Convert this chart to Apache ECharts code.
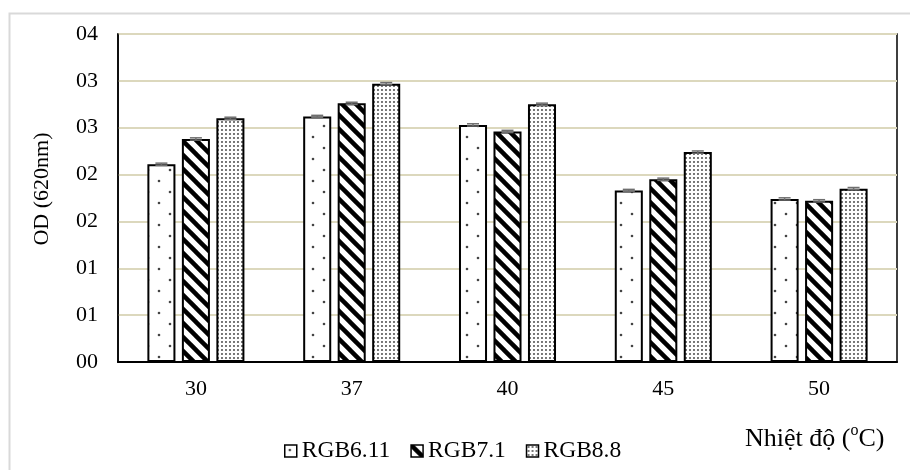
<!DOCTYPE html>
<html>
<head>
<meta charset="utf-8">
<script src="https://cdn.jsdelivr.net/npm/echarts@6/dist/echarts.min.js"></script>
<style>html,body{margin:0;padding:0;background:#fff;}#c{width:910px;height:470px;}</style>
</head>
<body>
<div id="c"></div>
<script>
// ---- data ----
const categories = ['30', '37', '40', '45', '50'];
const seriesNames = ['RGB6.11', 'RGB7.1', 'RGB8.8'];
const rgb611 = [2.11, 2.62, 2.53, 1.83, 1.74];
const rgb71 = [2.38, 2.76, 2.46, 1.95, 1.72];
const rgb88 = [2.60, 2.97, 2.75, 2.24, 1.85];
const err611 = [0.012, 0.012, 0.012, 0.012, 0.012];
const err71 = [0.012, 0.012, 0.012, 0.012, 0.012];
const err88 = [0.012, 0.012, 0.012, 0.012, 0.012];
const yTickLabels = ['00', '01', '01', '02', '02', '03', '03', '04'];
const yTickStep = 0.5;

// ---- patterns ----
function mk(w, h, draw) {
  const c = document.createElement('canvas');
  c.width = w; c.height = h;
  const g = c.getContext('2d');
  g.fillStyle = '#fff'; g.fillRect(0, 0, w, h);
  draw(g, w, h);
  return c;
}
const sparseDots = mk(22, 22, (g) => {
  g.fillStyle = '#444';
  [[5, 5], [16, 16]].forEach(([x, y]) => { g.beginPath(); g.arc(x, y, 1.3, 0, Math.PI * 2); g.fill(); });
});
const stripes = mk(14, 14, (g, s) => {
  g.strokeStyle = '#000'; g.lineWidth = 4.5;
  for (let k = -1; k <= 1; k++) {
    g.beginPath(); g.moveTo(-2, -2 + k * s); g.lineTo(s + 2, s + 2 + k * s); g.stroke();
  }
});
const denseDots = mk(4, 4, (g) => {
  g.fillStyle = '#555';
  g.beginPath(); g.arc(2, 2, 1.05, 0, Math.PI * 2); g.fill();
});
const patterns = [sparseDots, stripes, denseDots];
const values = [rgb611, rgb71, rgb88];
const errors = [err611, err71, err88];

const FONT = '"Liberation Serif", "Times New Roman", serif';
const BAR_W = 0.18, BAR_GAP = 0.23;

const series = [];
values.forEach((vals, i) => {
  series.push({
    name: seriesNames[i],
    type: 'bar',
    data: vals,
    barWidth: (BAR_W * 100) + '%',
    barGap: (BAR_GAP * 100) + '%',
    itemStyle: { color: { image: patterns[i], repeat: 'repeat' }, borderColor: '#000', borderWidth: 2 },
    emphasis: { disabled: true }
  });
});
values.forEach((vals, i) => {
  series.push({
    type: 'custom',
    name: 'err' + i,
    z: 5,
    data: vals.map((v, j) => [j, v, errors[i][j]]),
    renderItem: function (params, api) {
      const x = api.value(0), v = api.value(1), e = api.value(2);
      const band = api.size([1, 0])[0];
      const bw = band * BAR_W, gap = bw * BAR_GAP;
      const off = (i - 1) * (bw + gap);
      const top = api.coord([x, v + e]);
      const bot = api.coord([x, v - e]);
      const cx = top[0] + off;
      const cw = 6;
      const st = { stroke: '#6e6e6e', lineWidth: 1.5 };
      return {
        type: 'group',
        children: [
          { type: 'line', shape: { x1: cx, y1: top[1], x2: cx, y2: bot[1] }, style: st },
          { type: 'line', shape: { x1: cx - cw, y1: top[1], x2: cx + cw, y2: top[1] }, style: st },
          { type: 'line', shape: { x1: cx - cw, y1: bot[1], x2: cx + cw, y2: bot[1] }, style: st }
        ]
      };
    }
  });
});

const chart = echarts.init(document.getElementById('c'), null, { renderer: 'canvas' });
chart.setOption({
  animation: false,
  backgroundColor: '#fff',
  textStyle: { fontFamily: FONT },
  grid: { left: 118, top: 34, right: 13, bottom: 108, show: true, borderColor: '#000', borderWidth: 1.5, backgroundColor: 'transparent' },
  legend: {
    data: seriesNames,
    left: 279, top: 434,
    itemWidth: 12, itemHeight: 12, itemGap: 20,
    icon: 'rect',
    itemStyle: { borderColor: '#000', borderWidth: 1.5 },
    textStyle: { fontFamily: FONT, fontSize: 23.5, color: '#000', padding: [0, 0, 0, 0] }
  },
  xAxis: {
    type: 'category',
    data: categories,
    axisLine: { lineStyle: { color: '#000', width: 2 } },
    axisTick: { show: false },
    axisLabel: { color: '#000', fontSize: 22, fontFamily: FONT, margin: 16 }
  },
  yAxis: {
    type: 'value',
    min: 0, max: 3.5, interval: yTickStep,
    axisLine: { show: true, lineStyle: { color: '#000', width: 1.5 } },
    axisTick: { show: false },
    splitLine: { lineStyle: { color: '#dcd8bd', width: 2 } },
    axisLabel: { color: '#000', fontSize: 22, fontFamily: FONT, margin: 20,
      formatter: (v) => yTickLabels[Math.round(v / yTickStep)] }
  },
  graphic: [
    { type: 'rect', left: 7, top: 11, shape: { width: 920, height: 480 }, style: { fill: 'none', stroke: '#d9d9d9', lineWidth: 2 }, silent: true, z: -10 },
    { type: 'text', x: 42, y: 189, rotation: Math.PI / 2, style: { text: 'OD (620nm)', font: '22px ' + FONT, fill: '#000', align: 'center', verticalAlign: 'middle' } },
    { type: 'text', left: 745, top: 420, style: {
        text: '{a|Nhiệt độ (}{s|o}{a|C)}',
        rich: { a: { fontSize: 26, fontFamily: FONT, fill: '#000', lineHeight: 32, verticalAlign: 'bottom' },
                s: { fontSize: 16, fontFamily: FONT, fill: '#000', lineHeight: 32, verticalAlign: 'top', padding: [3, 0, 0, 0] } } } }
  ],
  series: series
});
</script>
</body>
</html>
